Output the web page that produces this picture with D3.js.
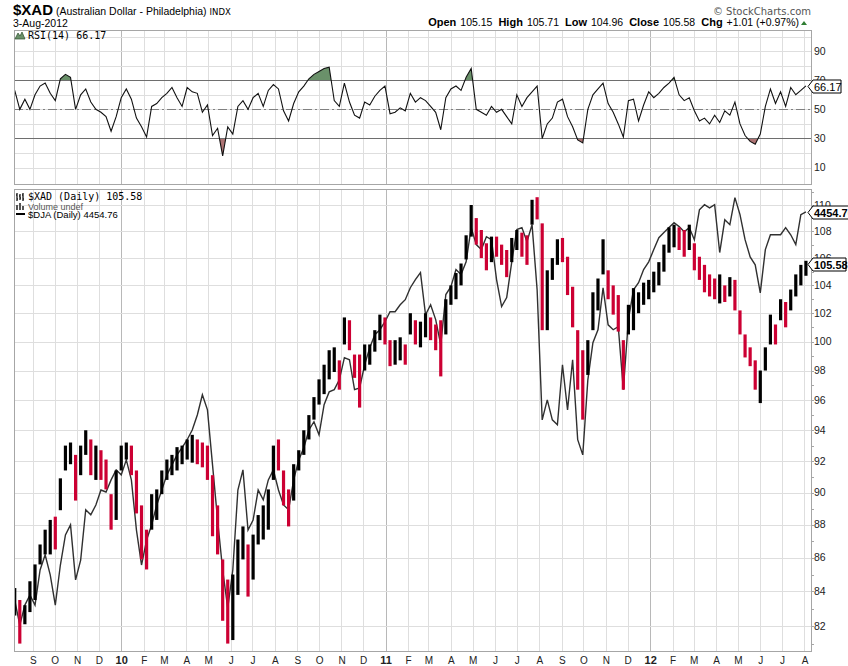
<!DOCTYPE html>
<html>
<head>
<meta charset="utf-8">
<script src="https://cdn.jsdelivr.net/npm/d3@7"></script>
<style>
  body { margin: 0; background: #fff; }
</style>
</head>
<body>
<div id="chart"></div>
<script>
// weekly samples (Fridays), first one 7-Aug-2009
const firstWeek = new Date(2009, 7, 7);

const xadHigh = [
    84.2, 83.5, 83.2, 84.6, 85.6, 86.8, 87.7, 88.3, 88.5, 90.9,
    93.0, 93.2, 92.4, 93.0, 94.0, 93.4, 93.0, 92.7, 92.1, 89.9,
    91.4, 93.0, 93.2, 93.0, 91.4, 89.2, 87.7, 89.9, 90.2, 91.4,
    92.1, 92.4, 92.9, 93.0, 93.4, 93.7, 93.4, 93.2, 93.0, 91.1,
    89.2, 85.9, 84.7, 85.0, 87.1, 87.9, 86.8, 87.4, 88.6, 89.2,
    90.2, 93.0, 93.4, 91.4, 90.2, 91.8, 92.7, 94.0, 95.0, 96.2,
    97.4, 98.4, 99.4, 99.6, 98.7, 101.7, 101.5, 99.1, 99.1, 99.8,
    99.8, 100.8, 101.9, 101.7, 100.1, 100.1, 100.3, 99.8, 102.0, 101.5,
    101.4, 102.0, 101.7, 101.2, 101.5, 103.0, 104.0, 104.9, 105.6, 107.7,
    110.0, 109.0, 108.1, 107.1, 107.6, 107.6, 107.0, 106.6, 107.5, 108.1,
    107.9, 107.7, 110.4, 110.6, 108.6, 105.1, 106.0, 107.4, 107.5, 106.1,
    103.9, 100.8, 99.4, 100.1, 103.5, 104.5, 107.4, 105.1, 104.0, 103.3,
    100.1, 102.6, 103.8, 103.5, 104.2, 104.4, 105.0, 105.7, 107.0, 108.3,
    108.5, 108.3, 108.1, 108.5, 107.1, 106.1, 105.5, 104.8, 104.5, 104.8,
    104.0, 104.6, 104.4, 102.2, 100.5, 99.6, 98.7, 98.0, 99.6, 101.9,
    101.2, 103.0, 102.8, 103.7, 104.8, 105.5, 105.8
];

const xadLow = [
    82.6, 81.0, 82.1, 82.8, 83.5, 85.6, 86.2, 86.2, 86.5, 88.9,
    91.4, 91.8, 89.5, 91.1, 92.4, 91.1, 90.8, 90.8, 90.2, 87.7,
    88.3, 91.4, 92.1, 91.1, 88.7, 85.9, 85.3, 87.7, 88.3, 89.9,
    90.8, 91.1, 91.4, 91.8, 92.1, 91.9, 91.8, 91.6, 90.8, 87.3,
    86.2, 82.3, 81.0, 81.2, 83.8, 85.9, 83.7, 84.7, 86.8, 87.1,
    87.7, 90.8, 91.4, 89.2, 87.9, 89.5, 91.4, 92.4, 93.4, 94.7,
    95.7, 96.4, 97.4, 97.9, 96.7, 99.8, 99.4, 97.5, 95.5, 98.0,
    98.4, 99.3, 100.1, 99.8, 98.3, 98.4, 98.7, 98.4, 100.5, 99.8,
    99.6, 100.3, 100.1, 99.4, 97.6, 100.5, 102.6, 103.0, 104.0, 105.9,
    107.6, 107.0, 106.0, 105.1, 105.7, 106.1, 105.5, 104.6, 105.7, 106.6,
    106.1, 105.5, 108.5, 108.9, 100.8, 100.8, 104.4, 105.5, 105.7, 103.3,
    101.0, 96.7, 94.7, 97.7, 100.8, 102.2, 104.8, 103.0, 101.9, 100.7,
    96.7, 100.5, 100.8, 102.0, 102.6, 103.0, 103.5, 104.0, 105.0, 106.4,
    106.8, 106.6, 106.1, 106.6, 105.1, 104.4, 103.5, 103.2, 103.0, 102.7,
    102.8, 103.2, 102.2, 100.5, 98.9, 98.3, 96.7, 95.8, 98.0, 99.8,
    99.8, 101.5, 101.0, 102.2, 103.2, 104.0, 104.7
];

const xadClose = [
    83.5, 81.8, 82.8, 84.1, 85.0, 86.5, 87.1, 87.7, 87.1, 90.5,
    92.4, 92.7, 90.8, 92.4, 93.4, 92.1, 92.4, 91.8, 90.8, 88.3,
    90.8, 92.4, 92.7, 91.8, 89.5, 87.1, 86.8, 89.2, 89.5, 90.8,
    91.4, 91.8, 92.4, 92.7, 92.9, 93.0, 92.7, 92.4, 91.4, 88.3,
    87.1, 83.5, 82.6, 84.1, 86.2, 86.8, 84.7, 86.5, 88.0, 88.6,
    89.5, 92.4, 92.1, 90.2, 88.9, 91.1, 92.2, 93.4, 94.4, 95.7,
    96.7, 97.7, 98.7, 99.1, 97.7, 100.8, 100.1, 98.4, 97.4, 99.1,
    99.4, 100.1, 101.2, 100.8, 99.1, 99.4, 99.8, 99.4, 101.5, 100.5,
    100.8, 101.2, 100.8, 100.1, 99.8, 102.2, 103.5, 104.4, 105.1, 107.2,
    109.3, 108.0, 107.0, 106.0, 107.0, 106.8, 106.2, 105.7, 106.8, 107.5,
    107.0, 106.6, 109.6, 109.3, 103.3, 104.0, 105.5, 106.6, 106.2, 104.4,
    102.2, 98.0, 97.4, 99.1, 102.6, 103.7, 106.2, 104.0, 103.0, 101.5,
    98.7, 101.9, 102.6, 103.0, 103.3, 103.8, 104.4, 105.1, 106.2, 107.6,
    108.0, 107.4, 107.0, 107.4, 106.0, 105.3, 104.4, 104.0, 103.7, 103.8,
    103.5, 104.0, 103.0, 101.0, 99.8, 98.7, 97.4, 97.4, 99.1, 100.8,
    100.5, 102.4, 101.9, 103.3, 104.3, 105.0, 105.58
];

const djaClose = [
    3398, 3339, 3386, 3410, 3386, 3470, 3507, 3458, 3386, 3482,
    3556, 3581, 3446, 3494, 3619, 3606, 3631, 3669, 3664, 3695,
    3721, 3708, 3747, 3695, 3568, 3482, 3543, 3581, 3631, 3669,
    3708, 3734, 3760, 3779, 3800, 3826, 3866, 3921, 3880, 3734,
    3593, 3470, 3379, 3470, 3669, 3721, 3568, 3593, 3669, 3644,
    3695, 3721, 3669, 3631, 3619, 3695, 3747, 3779, 3826, 3848,
    3813, 3894, 3929, 3935, 3962, 4024, 4018, 3935, 3940, 4004,
    4052, 4089, 4103, 4126, 4155, 4155, 4175, 4190, 4225, 4249,
    4270, 4146, 4175, 4132, 4060, 4205, 4228, 4279, 4264, 4302,
    4406, 4354, 4339, 4378, 4369, 4249, 4170, 4196, 4302, 4400,
    4406, 4363, 4415, 4219, 3853, 3907, 3853, 3840, 4004, 3880,
    4018, 3800, 3760, 3962, 4066, 4103, 4225, 4117, 4103, 4112,
    3935, 4132, 4219, 4240, 4279, 4302, 4339, 4375, 4391, 4406,
    4421, 4409, 4393, 4406, 4369, 4461, 4477, 4467, 4477, 4330,
    4430, 4415, 4499, 4446, 4369, 4317, 4293, 4210, 4339, 4384,
    4384, 4384, 4406, 4384, 4354, 4446, 4454.76
];

const rsiValues = [
    63, 50, 57, 50, 60, 66, 68, 61, 56, 71,
    74, 72, 50, 60, 64, 55, 50, 48, 45, 35,
    45, 58, 64, 57, 44, 38, 31, 52, 54, 58,
    61, 65, 58, 52, 65, 62, 61, 48, 53, 32,
    37, 18, 38, 33, 52, 56, 50, 58, 61, 52,
    63, 67, 64, 49, 42, 54, 62, 66, 71, 74,
    76, 78, 79, 56, 52, 68, 55, 46, 44, 55,
    53, 59, 63, 66, 47, 48, 51, 49, 61, 55,
    58, 56, 52, 48, 36, 58, 64, 66, 63, 72,
    78, 50, 48, 46, 52, 48, 50, 45, 40, 60,
    52, 58, 62, 66, 30, 40, 44, 55, 57, 45,
    38, 29, 27, 50, 60, 64, 68, 54, 48, 40,
    31, 56, 57, 42, 53, 62, 58, 61, 65, 68,
    72, 60, 56, 58, 49, 42, 44, 40, 46, 41,
    49, 46, 55, 40, 32, 28, 26, 33, 52, 64,
    54, 62, 52, 65, 60, 63, 66.17
];

const priceTicks = [82, 84, 86, 88, 90, 92, 94, 96, 98, 100, 102, 104, 106, 108, 110];
const rsiTicks = [10, 30, 50, 70, 90];
const rsiGrid = [10, 20, 30, 40, 50, 60, 70, 80, 90, 100];
const monthLetters = ['J', 'F', 'M', 'A', 'M', 'J', 'J', 'A', 'S', 'O', 'N', 'D'];

const headerStats = [
    ['Open', '105.15'], ['High', '105.71'], ['Low', '104.96'],
    ['Close', '105.58'], ['Chg', '+1.01 (+0.97%)']
];

const rows = xadClose.map((close, i) => ({
    date: d3.timeDay.offset(firstWeek, 7 * i),
    high: xadHigh[i],
    low: xadLow[i],
    close: close,
    up: i === 0 || close >= xadClose[i - 1],
    dja: djaClose[i],
    rsi: rsiValues[i]
}));

const frame = { left: 14, right: 811 };
const rsiPanel = { top: 30, bottom: 184 };
const pricePanel = { top: 189, bottom: 651 };

const svg = d3.select('#chart')
    .append('svg')
    .attr('width', 848)
    .attr('height', 666)
    .style('font-family', '"Liberation Sans", Arial, sans-serif');

const x = d3.scaleTime()
    .domain([new Date(2009, 7, 6), new Date(2012, 7, 10)])
    .range([frame.left, frame.right]);

const y = d3.scaleLog().domain([82, 110]).range([626, 205]);
const yDja = d3.scaleLog().domain([3337, 4476]).range([626, 205]);
const yRsi = d3.scaleLinear().domain([0, 100]).range([182.2, 36.5]);

const months = d3.timeMonth.range(new Date(2009, 8, 1), new Date(2012, 7, 2));

// clip paths
const defs = svg.append('defs');
defs.append('clipPath').attr('id', 'clip-price')
    .append('rect')
    .attr('x', frame.left).attr('y', pricePanel.top)
    .attr('width', frame.right - frame.left).attr('height', pricePanel.bottom - pricePanel.top);
defs.append('clipPath').attr('id', 'clip-ob')
    .append('rect')
    .attr('x', frame.left).attr('y', rsiPanel.top)
    .attr('width', frame.right - frame.left).attr('height', yRsi(70) - rsiPanel.top);
defs.append('clipPath').attr('id', 'clip-os')
    .append('rect')
    .attr('x', frame.left).attr('y', yRsi(30))
    .attr('width', frame.right - frame.left).attr('height', rsiPanel.bottom - yRsi(30));

// grid
[rsiPanel, pricePanel].forEach(panel => {
    svg.append('g')
        .selectAll('line')
        .data(months)
        .join('line')
        .attr('x1', d => Math.round(x(d)) + 0.5)
        .attr('x2', d => Math.round(x(d)) + 0.5)
        .attr('y1', panel.top)
        .attr('y2', panel.bottom)
        .attr('stroke', d => d.getMonth() === 0 ? '#b8b8b8' : '#dedede');
});

svg.append('g')
    .selectAll('line')
    .data(priceTicks)
    .join('line')
    .attr('x1', frame.left).attr('x2', frame.right)
    .attr('y1', d => Math.round(y(d)) + 0.5)
    .attr('y2', d => Math.round(y(d)) + 0.5)
    .attr('stroke', '#dedede');

svg.append('g')
    .selectAll('line')
    .data(rsiGrid)
    .join('line')
    .attr('x1', frame.left).attr('x2', frame.right)
    .attr('y1', d => Math.round(yRsi(d)) + 0.5)
    .attr('y2', d => Math.round(yRsi(d)) + 0.5)
    .attr('stroke', '#dedede');

// RSI panel
const obArea = d3.area().x(d => x(d.date)).y0(yRsi(70)).y1(d => yRsi(d.rsi));
const osArea = d3.area().x(d => x(d.date)).y0(yRsi(30)).y1(d => yRsi(d.rsi));

svg.append('path').datum(rows)
    .attr('d', obArea).attr('fill', '#6a916a').attr('clip-path', 'url(#clip-ob)');
svg.append('path').datum(rows)
    .attr('d', osArea).attr('fill', '#ad7373').attr('clip-path', 'url(#clip-os)');

[70, 30].forEach(level => {
    svg.append('line')
        .attr('x1', frame.left).attr('x2', frame.right)
        .attr('y1', Math.round(yRsi(level)) + 0.5).attr('y2', Math.round(yRsi(level)) + 0.5)
        .attr('stroke', '#6e6e6e');
});
svg.append('line')
    .attr('x1', frame.left).attr('x2', frame.right)
    .attr('y1', Math.round(yRsi(50)) + 0.5).attr('y2', Math.round(yRsi(50)) + 0.5)
    .attr('stroke', '#808080')
    .attr('stroke-dasharray', '9,3,2,3');

svg.append('path').datum(rows)
    .attr('d', d3.line().x(d => x(d.date)).y(d => yRsi(d.rsi)))
    .attr('fill', 'none')
    .attr('stroke', '#111')
    .attr('stroke-width', 1.1);

// price panel
const marks = svg.append('g').attr('clip-path', 'url(#clip-price)');

marks.append('path').datum(rows)
    .attr('d', d3.line().x(d => x(d.date)).y(d => yDja(d.dja)))
    .attr('fill', 'none')
    .attr('stroke', '#303030')
    .attr('stroke-width', 1.4);

marks.append('g')
    .selectAll('line')
    .data(rows)
    .join('line')
    .attr('x1', d => x(d.date))
    .attr('x2', d => x(d.date))
    .attr('y1', d => y(d.high))
    .attr('y2', d => y(d.low))
    .attr('stroke', d => d.up ? '#000' : '#cc0033')
    .attr('stroke-width', 3.2);

// frames
[rsiPanel, pricePanel].forEach(panel => {
    svg.append('rect')
        .attr('x', frame.left + 0.5).attr('y', panel.top + 0.5)
        .attr('width', frame.right - frame.left).attr('height', panel.bottom - panel.top)
        .attr('fill', 'none')
        .attr('stroke', '#a6a6a6');
});

// right axes
svg.append('g')
    .selectAll('line')
    .data(d3.range(81, 112))
    .join('line')
    .attr('x1', frame.right).attr('x2', frame.right + 3)
    .attr('y1', d => Math.round(y(d)) + 0.5)
    .attr('y2', d => Math.round(y(d)) + 0.5)
    .attr('stroke', '#a6a6a6');

svg.append('g')
    .selectAll('text')
    .data(priceTicks)
    .join('text')
    .attr('x', 814)
    .attr('y', d => y(d))
    .attr('dy', '0.35em')
    .attr('font-size', 10.5)
    .attr('fill', '#222')
    .text(d => d);

svg.append('g')
    .selectAll('text')
    .data(rsiTicks)
    .join('text')
    .attr('x', 814)
    .attr('y', d => yRsi(d))
    .attr('dy', '0.35em')
    .attr('font-size', 10.5)
    .attr('fill', '#222')
    .text(d => d);

// bottom axis
svg.append('g')
    .selectAll('text')
    .data(months)
    .join('text')
    .attr('x', d => x(d) + 0.5)
    .attr('y', 664)
    .attr('text-anchor', 'middle')
    .attr('font-size', d => d.getMonth() === 0 ? 11 : 10)
    .attr('font-weight', d => d.getMonth() === 0 ? 'bold' : null)
    .attr('fill', '#222')
    .text(d => d.getMonth() === 0 ? d3.timeFormat('%y')(d) : monthLetters[d.getMonth()]);

// value tags on the right edge
function valueTag(yPos, label, width, bold) {
    const g = svg.append('g').attr('transform', `translate(808,${Math.round(yPos) + 0.5})`);
    g.append('path')
        .attr('d', `M0,0L5,-6.5H${width}V6.5H5Z`)
        .attr('fill', '#fff')
        .attr('stroke', '#000');
    g.append('text')
        .attr('x', 6)
        .attr('y', 4)
        .attr('font-size', 11)
        .attr('font-weight', bold ? 'bold' : null)
        .text(label);
}
const last = rows[rows.length - 1];
valueTag(yRsi(last.rsi), '66.17', 33, false);
valueTag(yDja(last.dja), '4454.76', 48, true);
valueTag(y(last.close), '105.58', 38, true);

// header
const title = svg.append('text').attr('x', 13).attr('y', 15);
title.append('tspan').attr('font-size', 15).attr('font-weight', 'bold').text('$XAD');
title.append('tspan').attr('font-size', 10.5).attr('dx', 3).text('(Australian Dollar - Philadelphia)');
title.append('tspan').attr('font-size', 8.5).attr('dx', 3)
    .style('font-family', '"DejaVu Sans", sans-serif').text('INDX');

svg.append('text').attr('x', 13).attr('y', 27).attr('font-size', 10.5).text('3-Aug-2012');

svg.append('text')
    .attr('x', 811).attr('y', 15)
    .attr('text-anchor', 'end')
    .attr('font-size', 10)
    .attr('fill', '#555')
    .style('font-family', '"DejaVu Sans", sans-serif')
    .text('\u00a9 StockCharts.com');

const stats = svg.append('text').attr('x', 799).attr('y', 26).attr('text-anchor', 'end');
headerStats.forEach(([name, value], i) => {
    stats.append('tspan').attr('font-size', 11).attr('font-weight', 'bold')
        .attr('dx', i === 0 ? 0 : 6).text(name);
    stats.append('tspan').attr('font-size', 10.5).attr('dx', 4).text(value);
});
svg.append('path').attr('d', 'M801,25L804,21L807,25Z').attr('fill', '#2e7d32');

// legends
svg.append('path')
    .attr('d', 'M15,39L18,33L20,36L22,32L25,39Z')
    .attr('fill', '#6a916a').attr('stroke', '#2d4d2d').attr('stroke-width', 0.7);
svg.append('text')
    .attr('x', 28).attr('y', 39)
    .attr('font-size', 10)
    .style('font-family', '"DejaVu Sans Mono", monospace')
    .text('RSI(14) 66.17');

svg.append('path')
    .attr('d', 'M17,193V201M16,195H17M17,199H18M20,194V200M19,196H20M20,198H21M23,193V201M22,195H23M23,199H24')
    .attr('stroke', '#000').attr('stroke-width', 1.2).attr('fill', 'none');
svg.append('text')
    .attr('x', 28).attr('y', 200)
    .attr('font-size', 10)
    .style('font-family', '"DejaVu Sans Mono", monospace')
    .text('$XAD (Daily) 105.58');

svg.append('path')
    .attr('d', 'M16,210V205H18V210ZM19,210V203H21V210ZM22,210V206H24V210Z')
    .attr('fill', '#555');
svg.append('text')
    .attr('x', 28).attr('y', 210)
    .attr('font-size', 9)
    .attr('fill', '#555')
    .text('Volume undef');

svg.append('rect').attr('x', 16).attr('y', 213).attr('width', 9).attr('height', 2).attr('fill', '#000');
svg.append('text')
    .attr('x', 28).attr('y', 218)
    .attr('font-size', 9.5)
    .text('$DJA (Daily) 4454.76');
</script>
</body>
</html>
